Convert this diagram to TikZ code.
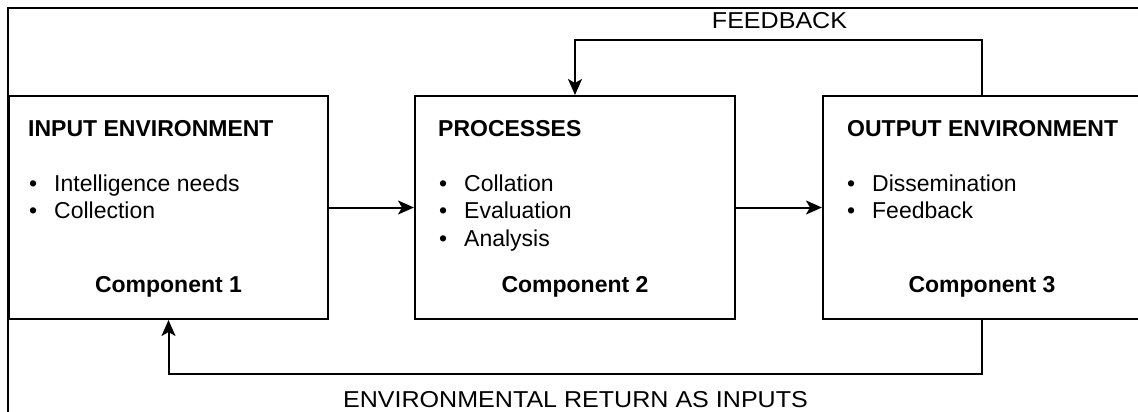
\documentclass[tikz,border=0pt]{standalone}
\usepackage{fontspec}
\setmainfont{Liberation Sans}
\newfontfamily\widefont[FakeStretch=1.09]{Liberation Sans}
\usetikzlibrary{arrows.meta}
\begin{document}
\begin{tikzpicture}[x=1pt,y=-1pt,
  box/.style={draw, line width=2pt, inner sep=0pt, minimum height=223pt},
  ttl/.style={anchor=base west, inner sep=0pt, font=\fontsize{23}{27}\selectfont\bfseries},
  itm/.style={anchor=base west, inner sep=0pt, font=\fontsize{23}{27}\selectfont},
  cmp/.style={anchor=base, inner sep=0pt, font=\fontsize{23}{27}\selectfont\bfseries},
  lbl/.style={inner sep=0pt, font=\fontsize{23}{27}\widefont},
  arr/.style={line width=2pt, -{Stealth[length=16pt,width=14pt,inset=4pt]}},
  frame/.style={line width=2pt}]
\useasboundingbox (0,0) rectangle (1138,412);
\clip (0,0) rectangle (1138,412);
\fill[white] (0,0) rectangle (1138,412);
% outer frame (cropped)
\coordinate (fa) at (8,420);
\coordinate (fb) at (8,8);
\coordinate (fc) at (1150,8);
\draw[frame] (fa) -- (fb) -- (fc);
% boxes
\node[box, minimum width=319pt] (box1) at (168.5,207.5) {};
\node[box, minimum width=320pt] (box2) at (575,207.5) {};
\node[box, minimum width=360pt] (box3) at (1003,207.5) {};
\coordinate (c3x) at (982,0);
% box 1 text
\node[ttl] (t1) at (28,136) {INPUT ENVIRONMENT};
\node[itm] (a1) at (29,191) {\makebox[25pt][l]{\textbullet}Intelligence needs};
\node[itm] (a2) at (29,218.5) {\makebox[25pt][l]{\textbullet}Collection};
\node[cmp] (c1) at (168.5,292) {Component 1};
% box 2 text
\node[ttl] (t2) at (438,136) {PROCESSES};
\node[itm] (b1) at (439,191) {\makebox[25pt][l]{\textbullet}Collation};
\node[itm] (b2) at (439,218.5) {\makebox[25pt][l]{\textbullet}Evaluation};
\node[itm] (b3) at (439,246) {\makebox[25pt][l]{\textbullet}Analysis};
\node[cmp] (c2) at (575,292) {Component 2};
% box 3 text
\node[ttl] (t3) at (847,136) {OUTPUT ENVIRONMENT};
\node[itm] (d1) at (847,191) {\makebox[25pt][l]{\textbullet}Dissemination};
\node[itm] (d2) at (847,218.5) {\makebox[25pt][l]{\textbullet}Feedback};
\node[cmp] (c3) at (982,292) {Component 3};
% connectors
\draw[arr] (box1.east) -- (box2.west);
\draw[arr] (box2.east) -- (box3.west);
\coordinate (fbtop) at (0,40);
\coordinate (rtbot) at (0,374);
\draw[arr] (box3.north -| c3x) -- (c3x |- fbtop) -| (box2.north);
\draw[arr] (box3.south -| c3x) -- (c3x |- rtbot) -| (box1.south);
% labels
\node[lbl] (fbl) at (779.5,20.5) {FEEDBACK};
\node[lbl] (rtl) at (575.5,400) {ENVIRONMENTAL RETURN AS INPUTS};
\end{tikzpicture}
\end{document}
